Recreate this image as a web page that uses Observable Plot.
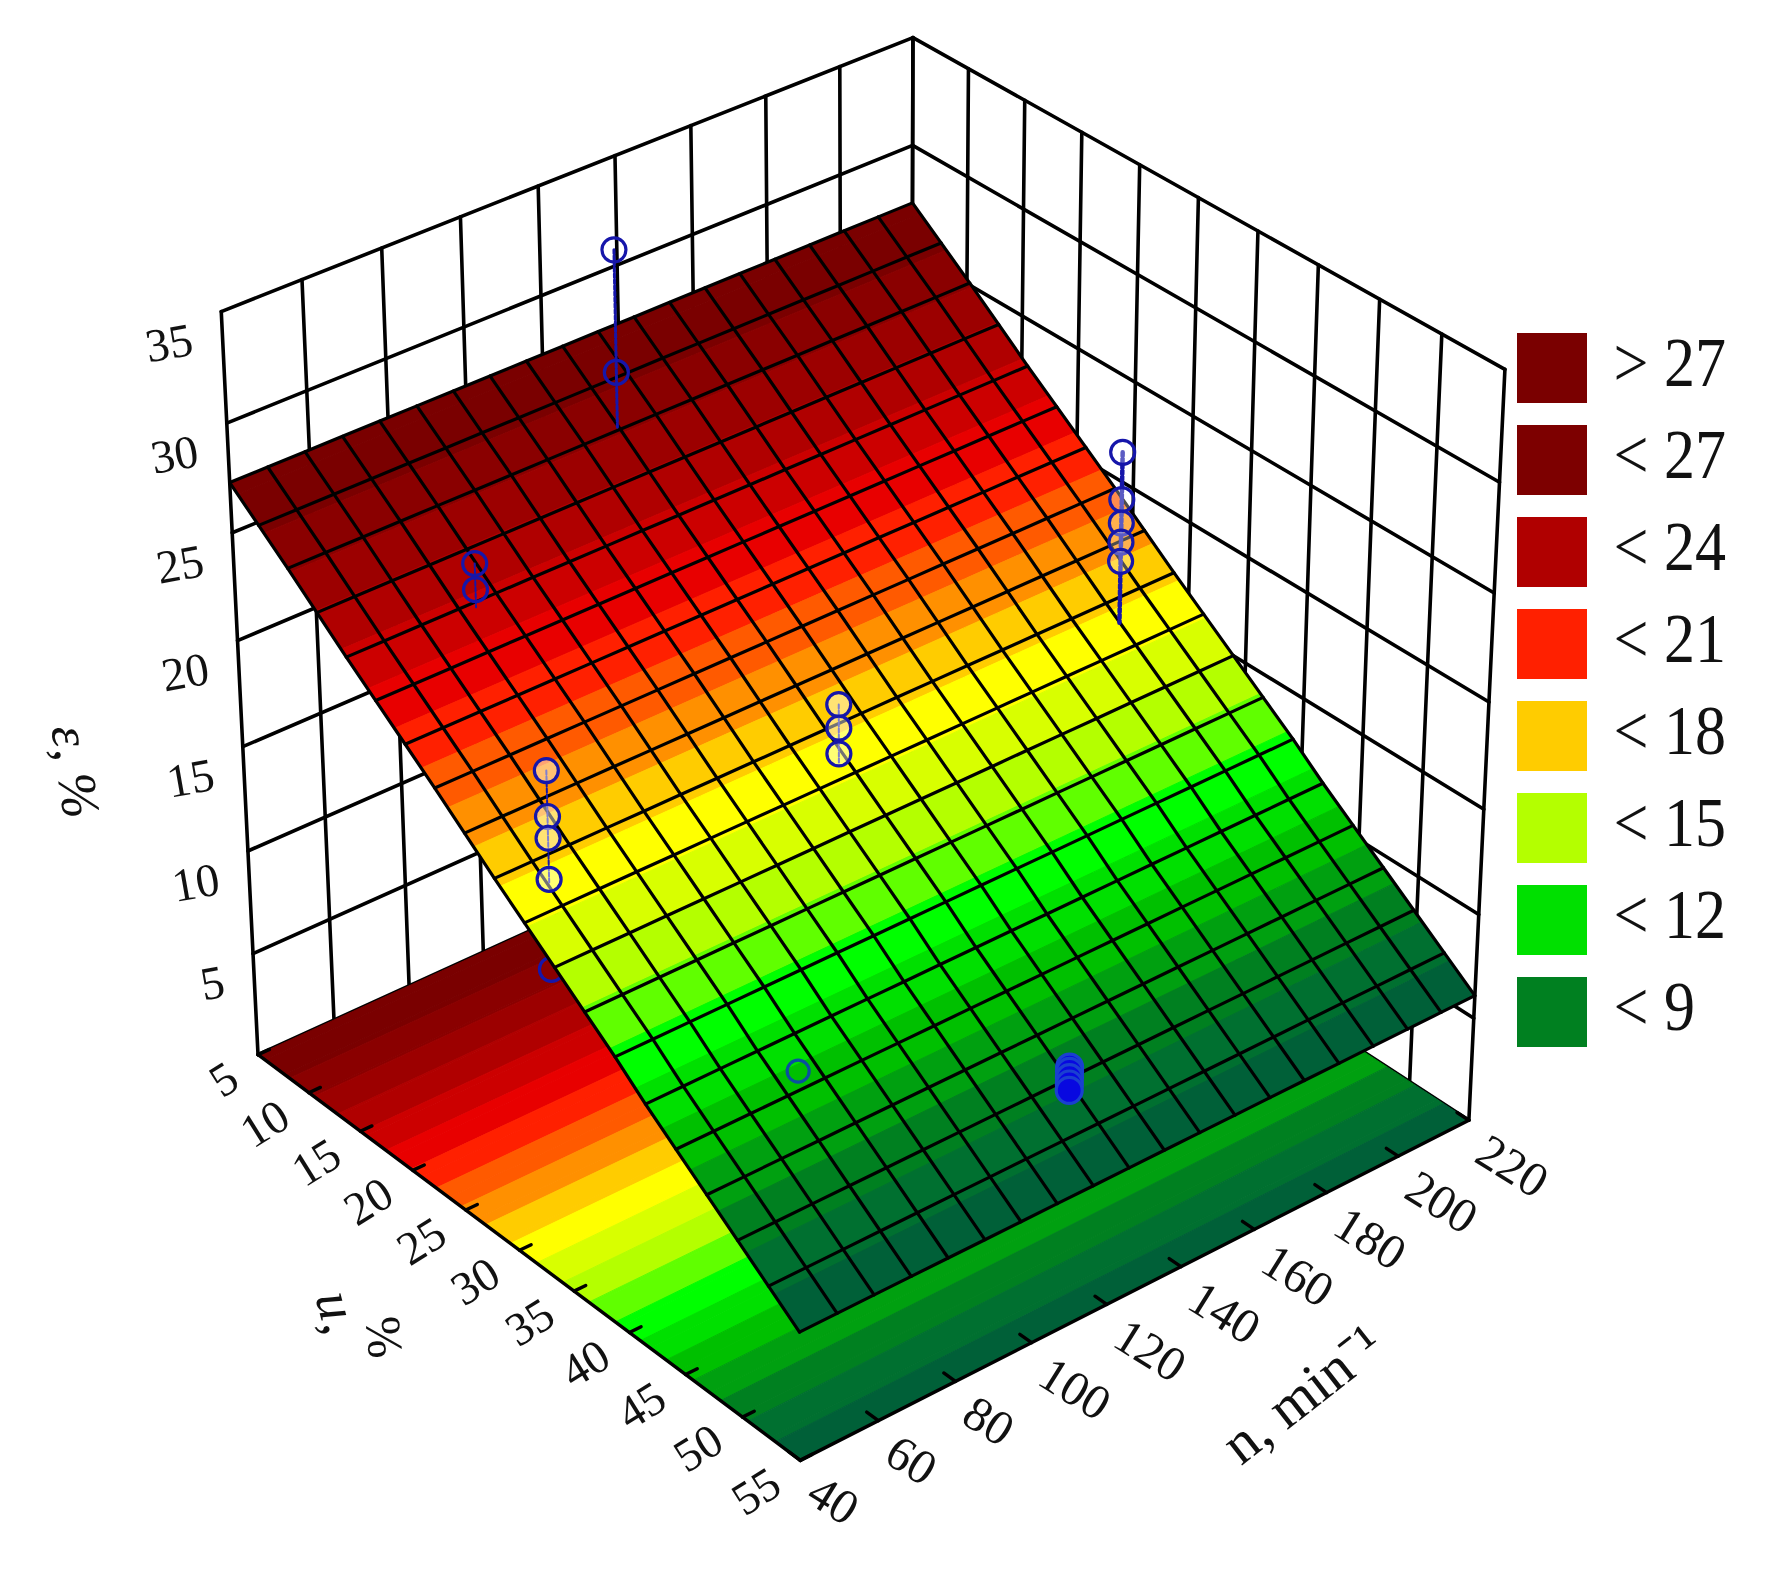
<!DOCTYPE html>
<html><head><meta charset="utf-8">
<script src="https://cdn.jsdelivr.net/npm/d3@7"></script>
<script src="https://cdn.jsdelivr.net/npm/@observablehq/plot@0.6"></script>
<style>html,body{margin:0;background:#fff}#c{position:relative;width:1766px;height:1574px;overflow:hidden}
#c>*{position:absolute;left:0;top:0;filter:blur(0.6px)}</style>
</head><body><div id="c"></div>
<script>
const uTicks=[5,10,15,20,25,30,35,40,45,50,55];
const nTicks=[40,60,80,100,120,140,160,180,200,220];
const zTicks=[5,10,15,20,25,30,35];
const meshU=[5,7.63,10.26,12.89,15.53,18.16,20.79,23.42,26.05,28.68,31.32,33.95,36.58,39.21,41.84,44.47,47.11,49.74,52.37,55];
const meshN=[40,49.5,58.9,68.4,77.9,87.4,96.8,106.3,115.8,125.3,134.7,144.2,153.7,163.2,172.6,182.1,191.6,201.1,210.5,220];
const surfaceEps=[27.3,26.2,25.1,23.95,22.8,21.7,20.6,19.5,18.35,17.2,16.1,15.0,13.9,12.8,11.6,10.5,9.4,8.3,7.2,6.1];
const contourLevels=[6,7,8,9,10,11,12,13,14,15,16,17,18,19,20,21,22,23,24,25,26,27];
const contourColors=["#0a5a40","#006038","#007030","#008020","#00a010","#00c000","#00e000","#00ff00","#60ff00","#b4ff00","#d8ff00","#ffff00","#ffcc00","#ff9000","#ff5a00","#ff2000","#e80000","#cc0000","#b00000","#9c0000","#8a0000","#7a0000","#7a0000"];
const legendLabels=["> 27","< 27","< 24","< 21","< 18","< 15","< 12","< 9"];
const legendColors=["#7a0000","#7d0000","#b00000","#ff2000","#ffcc00","#b4ff00","#00e000","#008020"];
// measured runs: (u, n) and the measured eps values
const runG1={u:10.1,n:125,eps:[33.3,27.7]};
const runG2={u:15.8,n:72,eps:[24.7,23.5]};
const runG3={u:30,n:50,eps:[21.8,19.7,18.7,16.8]};
const runG3low={u:30,n:50,eps:[12.6]};
const runG4={u:30.6,n:123,eps:[19.2,18.1,16.9]};
const runG5={u:29.9,n:201,eps:[24.7,22.5,21.4,20.5,19.6]};
const runG6={u:43.8,n:73,eps:[11.0]};
const runG7={u:50.3,n:124,eps:[9.2,9.0,8.7,8.4,8.1]};
// camera calibration: [u,n,z,px,py]
const cam=[[5,40,0,256,1055],[55,40,0,800,1462],[55,220,0,1470,1119],[5,40,35,220,311],[55,220,35,1504,369],[5,220,35,912,38],
[5,40,5,252.7,953.5],[5,40,10,246.7,850],[5,40,15,241.7,745],[5,40,20,237.3,641],[5,40,25,232.7,533],[5,40,30,226.7,421],
[55,220,30,1498,480.6],[55,220,25,1495,593.6],[55,220,20,1490,701.7],[55,220,15,1483,809],[30,40,0,523.5,1249],[55,120,0,1101,1302.5]];
const nrm=(u,n)=>[(u-5)/50,(n-40)/180];
function fit(){const A=[],b=[];for(const [u,n,z,px,py] of cam){const [U,N]=nrm(u,n),Z=z/35;
A.push([1,U,N,Z,0,0,0,0,-px*U,-px*N,-px*Z]);b.push(px);A.push([0,0,0,0,1,U,N,Z,-py*U,-py*N,-py*Z]);b.push(py);}
const m=11,M=Array.from({length:m},(_,i)=>{const r=Array(m+1).fill(0);for(let k=0;k<A.length;k++){for(let j=0;j<m;j++)r[j]+=A[k][i]*A[k][j];r[m]+=A[k][i]*b[k];}return r;});
for(let i=0;i<m;i++){let p=i;for(let r=i+1;r<m;r++)if(Math.abs(M[r][i])>Math.abs(M[p][i]))p=r;[M[i],M[p]]=[M[p],M[i]];
for(let r=0;r<m;r++)if(r!==i){const f=M[r][i]/M[i][i];for(let j=i;j<=m;j++)M[r][j]-=f*M[i][j];}}
return M.map((r,i)=>r[m]/r[i]);}
const h=fit();
function P(u,n,z){const [U,N]=nrm(u,n),Z=z/35,w=1+h[8]*U+h[9]*N+h[10]*Z;return{x:(h[0]+h[1]*U+h[2]*N+h[3]*Z)/w,y:(h[4]+h[5]*U+h[6]*N+h[7]*Z)/w};}
const epsAt=u=>{const i=Math.min(meshU.length-2,Math.max(0,d3.bisectRight(meshU,u)-1));const t=(u-meshU[i])/(meshU[i+1]-meshU[i]);return surfaceEps[i]+t*(surfaceEps[i+1]-surfaceEps[i]);};
// strips between mesh rows and contour crossings
const br=new Set(meshU);for(let i=0;i<meshU.length-1;i++)for(const l of contourLevels){const a=surfaceEps[i],b=surfaceEps[i+1];if((a-l)*(b-l)<0)br.add(meshU[i]+(a-l)/(a-b)*(meshU[i+1]-meshU[i]));}
const cuts=[...br].sort((a,b)=>a-b);
const surfStrips=[],floorStrips=[];
cuts.slice(0,-1).forEach((u1,i)=>{const u2=cuts[i+1],mid=epsAt((u1+u2)/2);
for(const c of [[u1,40],[u1,220],[u2,220],[u2,40],[u1,40]]){surfStrips.push({id:i,mid,...P(c[0],c[1],epsAt(c[0]))});floorStrips.push({id:i,mid,...P(c[0],c[1],0)});}});
let g=0;const seg=(arr,a,b)=>{arr.push({id:g,...a},{id:g,...b});g++;};
const gridLines=[];
for(const n of nTicks)seg(gridLines,P(5,n,0),P(5,n,35));
for(const u of uTicks)seg(gridLines,P(u,220,0),P(u,220,35));
for(const z of [0,...zTicks]){seg(gridLines,P(5,40,z),P(5,220,z));seg(gridLines,P(5,220,z),P(55,220,z));}
const axisLines=[];seg(axisLines,P(5,40,0),P(55,40,0));seg(axisLines,P(55,40,0),P(55,220,0));
for(const u of uTicks)seg(axisLines,P(u,40,0),P(u,43,0));
for(const n of nTicks)seg(axisLines,P(55,n,0),P(54,n,0));
const mesh=[];for(const n of meshN){meshU.forEach((u,i)=>mesh.push({id:"n"+n,...P(u,n,surfaceEps[i])}));}
meshU.forEach((u,i)=>{for(const n of meshN)mesh.push({id:"u"+u,...P(u,n,surfaceEps[i])});});
const uLab=uTicks.map(u=>({t:String(u),...P(u,40,0)})),nLab=nTicks.map(n=>({t:String(n),...P(55,n,0)})),zLab=zTicks.map(z=>({t:String(z),...P(5,40,z)}));
const dots=r=>r.eps.map(e=>P(r.u,r.n,e));
const stem=r=>[P(r.u,r.n,d3.max(r.eps)),P(r.u,r.n,Math.min(d3.min(r.eps),epsAt(r.u)))];
const F="Liberation Serif",B="#1616aa";
const T=(lab,o)=>Plot.text(lab,{x:"x",y:"y",text:"t",fontFamily:F,fill:"#111",...o});
const circ=(r,o)=>Plot.dot(dots(r),{x:"x",y:"y",r:12,stroke:B,strokeWidth:3.2,fill:"none",...o});
const st=(r,o)=>Plot.line(stem(r),{x:"x",y:"y",stroke:B,strokeWidth:3,strokeDasharray:"4,2",...o});
const chart=Plot.plot({width:1766,height:1574,margin:0,x:{domain:[0,1766],range:[0,1766],axis:null},y:{domain:[0,1574],range:[0,1574],axis:null},
color:{type:"threshold",domain:contourLevels,range:contourColors},style:{background:"#fff"},
marks:[
Plot.line(gridLines,{x:"x",y:"y",z:"id",stroke:"#000",strokeWidth:3.6}),
Plot.line(floorStrips,{x:"x",y:"y",z:"id",fill:"mid",stroke:"mid",strokeWidth:1}),
Plot.line(axisLines,{x:"x",y:"y",z:"id",stroke:"#000",strokeWidth:3.4}),
circ(runG3low,{}),
Plot.line(surfStrips,{x:"x",y:"y",z:"id",fill:"mid",stroke:"mid",strokeWidth:1}),
Plot.line(mesh,{x:"x",y:"y",z:"id",stroke:"#000",strokeWidth:3.2}),
st(runG1,{}),st(runG5,{strokeWidth:4.5}),st(runG3,{strokeWidth:2}),st(runG2,{strokeWidth:2}),st(runG4,{strokeWidth:2}),
circ(runG1,{}),circ(runG2,{}),
circ(runG3,{fill:"#fff",fillOpacity:0.45}),circ(runG4,{fill:"#fff",fillOpacity:0.45}),circ(runG5,{fill:"#fff",fillOpacity:0.3}),
circ(runG6,{stroke:"#0a4fa0",r:11}),circ(runG7,{stroke:"#1a40d0",fill:"#0808e0",r:13}),
T(uLab,{rotate:-32,textAnchor:"end",dx:-24,dy:19,fontSize:47}),
T(nLab,{rotate:32,textAnchor:"start",dx:12,dy:27,fontSize:49}),
T(zLab,{rotate:-10,textAnchor:"end",dx:-29,dy:28,fontSize:47}),
T([{t:"ε, %",...P(5,40,13)}],{rotate:82,dx:-170,dy:-17,fontSize:54,fontStyle:"italic"}),
T([{t:"u,",...P(30,40,0)}],{rotate:75,dx:-182,dy:62,fontSize:55,fontStyle:"italic"}),
T([{t:"%",...P(30,40,0)}],{rotate:85,dx:-136,dy:87,fontSize:50}),
T([{t:"n, min⁻¹",...P(55,120,0)}],{rotate:-38,dx:196,dy:90,fontSize:58}),
]});
document.getElementById("c").append(chart);
const legend=legendLabels.map((label,i)=>({label,color:legendColors[i]}));
const leg=Plot.plot({width:286,height:760,marginLeft:37,marginRight:179,marginTop:0,marginBottom:0,x:{domain:[0,1],axis:null},y:{domain:legendLabels,axis:null,padding:0.235},
style:{background:"transparent"},marks:[Plot.barX(legend,{x1:0,x2:1,y:"label",fill:"color"}),
Plot.text(legend,{y:"label",text:"label",frameAnchor:"left",dx:96,dy:-5,fontSize:62,fontFamily:F,fill:"#111"})]});
leg.querySelectorAll("text").forEach(t=>t.setAttribute("transform",(t.getAttribute("transform")||"")+" scale(1,1.13)"));
leg.style.left="1480px";leg.style.top="310px";document.getElementById("c").append(leg);
</script></body></html>
